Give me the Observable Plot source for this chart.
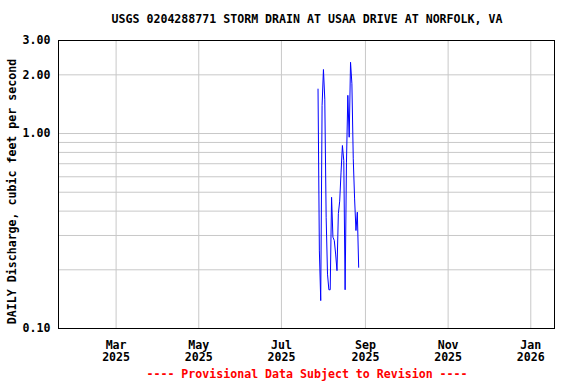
<!DOCTYPE html>
<html><head><meta charset="utf-8">
<script src="https://cdn.jsdelivr.net/npm/d3@7"></script>
<script src="https://cdn.jsdelivr.net/npm/@observablehq/plot@0.6"></script>
<style>
body{margin:0;background:#fff;}
#wrap{width:576px;height:384px;font-family:"DejaVu Sans Mono",monospace;font-weight:bold;}
.title{width:576px;height:30px;box-sizing:border-box;padding-top:12px;padding-left:38px;line-height:14px;font-size:11.6px;text-align:center;color:#000;white-space:nowrap;}
.caption{width:576px;height:20px;box-sizing:border-box;padding-left:38px;line-height:20px;font-size:11.6px;text-align:center;color:#ff0000;white-space:nowrap;}
#chart svg{display:block;}
</style>
</head><body>
<div id="wrap">
<div class="title">USGS 0204288771 STORM DRAIN AT USAA DRIVE AT NORFOLK, VA</div>
<div id="chart"></div>
<div class="caption">---- Provisional Data Subject to Revision ----</div>
</div>
<script>
// Daily discharge, cfs, starting 2025-07-28
const startDate = "2025-07-28";
const discharge = [1.69,0.25,0.139,1.39,2.13,1.5,0.372,0.19,0.158,0.158,0.471,0.294,0.283,0.241,0.198,0.388,0.45,0.634,0.868,0.727,0.158,0.713,1.57,0.957,2.32,1.80,0.742,0.462,0.318,0.395,0.206];
const xTickLabels = ["2025-03-01","2025-05-01","2025-07-01","2025-09-01","2025-11-01","2026-01-01"];
const yTickLabels = [0.1, 1, 2, 3];
const yGridValues = [0.1,0.2,0.3,0.4,0.5,0.6,0.7,0.8,0.9,1,2,3];
const xDomain = ["2025-01-17T12:00Z","2026-01-18T12:00Z"];
const yLabel = "DAILY Discharge, cubic feet per second";

const start = new Date(startDate + "T00:00Z");
const data = discharge.map((q, i) => ({date: d3.utcDay.offset(start, i), q}));
const xTicks = xTickLabels.map(s => new Date(s + "T00:00Z"));

const chart = Plot.plot({
  width: 576, height: 334,
  marginLeft: 58, marginRight: 22, marginTop: 10, marginBottom: 36,
  x: {type: "utc", domain: xDomain.map(s => new Date(s))},
  y: {type: "log", domain: [0.1, 3]},
  style: {fontFamily: "DejaVu Sans Mono, monospace", fontWeight: "bold", fontSize: "11.6px", color: "#000", background: "#fff"},
  marks: [
    Plot.ruleY(yGridValues, {stroke: "#c8c8c8", strokeWidth: 1}),
    Plot.ruleX(xTicks, {stroke: "#c8c8c8", strokeWidth: 1}),
    Plot.lineY(data, {x: "date", y: "q", stroke: "#0000ff", strokeWidth: 1}),
    Plot.frame({stroke: "#000", strokeWidth: 1}),
    Plot.axisY({ticks: yTickLabels, tickFormat: d => d.toFixed(2), tickSize: 0, tickPadding: 8, label: null, fill: "#000"}),
    Plot.text([yLabel], {frameAnchor: "left", rotate: -90, dx: -46, dy: 7, textAnchor: "middle", fill: "#000"}),
    Plot.axisX({ticks: xTicks, tickFormat: d3.utcFormat("%b\n%Y"), tickSize: 0, tickPadding: 11, lineHeight: 1.1, label: null, fill: "#000"})
  ]
});
document.getElementById("chart").appendChild(chart);
</script>
</body></html>
